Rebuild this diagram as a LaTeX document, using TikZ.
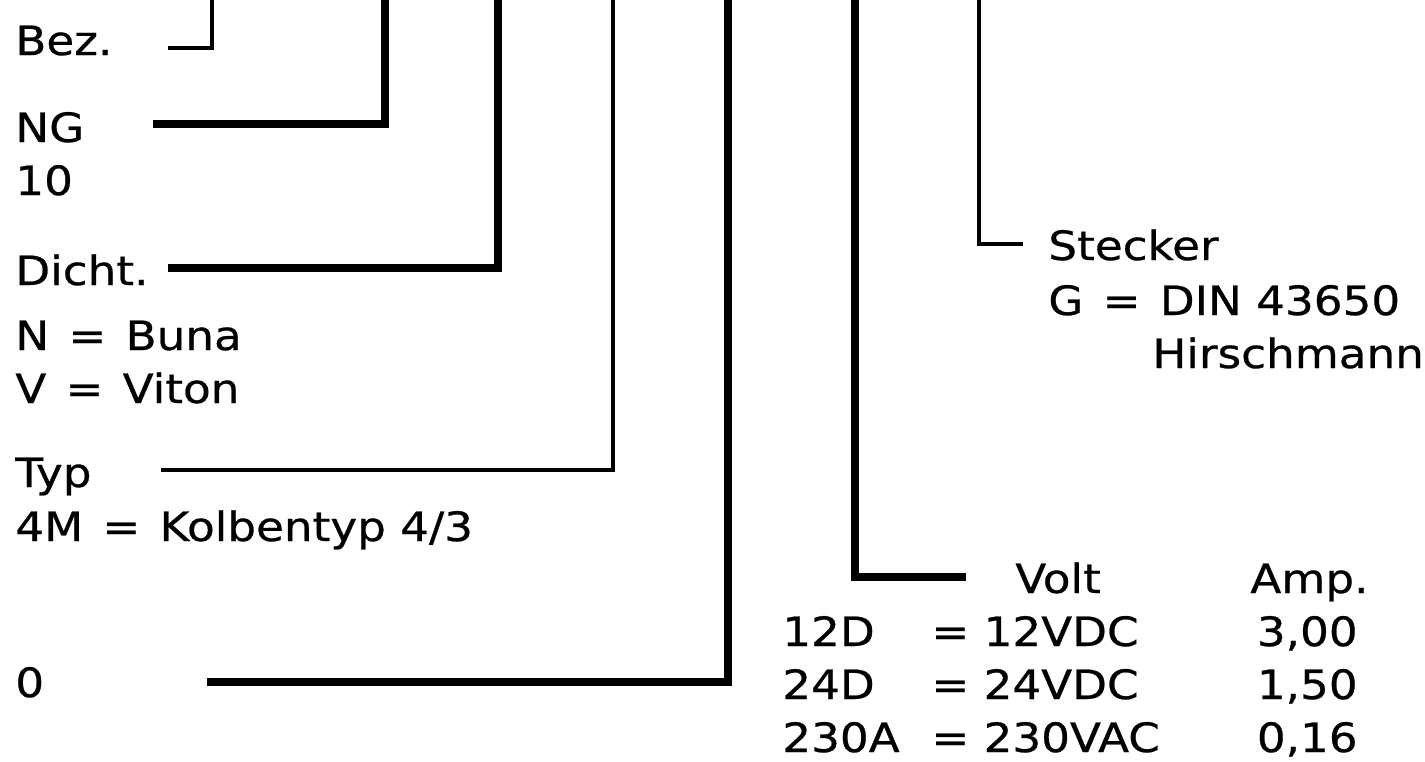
\documentclass[tikz,border=0pt]{standalone}
\usepackage{fontspec}
\setmainfont{DejaVu Sans}[FakeStretch=1.12,FakeBold=0.6]
\usetikzlibrary{positioning}
\newcommand{\gleich}{\hspace{0.12em}=\hspace{0.12em}}
\tikzset{
  code/.style={
    anchor = base west,
    inner sep = 0pt,
    font = \fontsize{23}{27}\selectfont
  },
  ampcol/.style={
    code,
    anchor = base east
  },
  lead/.style={
    line width = 4.2pt,
    line cap = rect
  },
  leadthin/.style={
    line width = 2.8pt,
    line cap = rect
  },
}

\begin{document}
\begin{tikzpicture}[x=0.02cm,y=-0.02cm]
    \useasboundingbox (0,0) rectangle (1425,761);
    \def\lx{15}
    % left column
    \node[code] (bez) at (\lx,55) {Bez.};
    \node[code] (ng) at (\lx,142) {NG};
    \node[code] (ngval) at (\lx,195) {10};
    \node[code] (dicht) at (\lx,285) {Dicht.};
    \node[code] (buna) at (\lx,350) {N \gleich{} Buna};
    \node[code] (viton) at (\lx,403) {V \gleich{} Viton};
    \node[code] (typ) at (\lx,487) {Typ};
    \node[code] (kolben) at (\lx,541) {4M \gleich{} Kolbentyp 4/3};
    \node[code] (null) at (\lx,697) {0};
    % right side
    \node[code] (stecker) at (1048,260) {Stecker};
    \node[code] (din) at (1048,315) {G \gleich{} DIN 43650};
    \node[code] (hirsch) at (1152,368) {Hirschmann};
    \node[code] (volt) at (1015,593) {Volt};
    \node[code] (amp) at (1250,593) {Amp.};
    \foreach \c/\v/\a/\y [count=\i] in {12D/12VDC/{3,00}/646, 24D/24VDC/{1,50}/699, 230A/230VAC/{0,16}/752}{
        \node[code] (spg\i) at (782,\y) {\c};
        \node[code] (vdc\i) at (931,\y) {= \v};
        \node[ampcol] (strom\i) at (1358,\y) {\a};
    }
    % lead lines
    \coordinate (bezA) at (170,48);   \coordinate (bezB) at (212,0);
    \coordinate (ngA) at (157,124);   \coordinate (ngB) at (385,0);
    \coordinate (dichtA) at (172,268); \coordinate (dichtB) at (498,0);
    \coordinate (typA) at (163,470);  \coordinate (typB) at (613,0);
    \coordinate (nullA) at (211,682); \coordinate (nullB) at (728,0);
    \coordinate (voltA) at (962,577); \coordinate (voltB) at (855,0);
    \coordinate (stA) at (1021,244);  \coordinate (stB) at (979,0);
    \foreach \a/\b/\st in {bezA/bezB/leadthin, ngA/ngB/lead, dichtA/dichtB/lead, typA/typB/leadthin, nullA/nullB/lead, voltA/voltB/lead, stA/stB/leadthin}{
        \draw[\st] (\a) -| (\b);
    }
\end{tikzpicture}
\end{document}
